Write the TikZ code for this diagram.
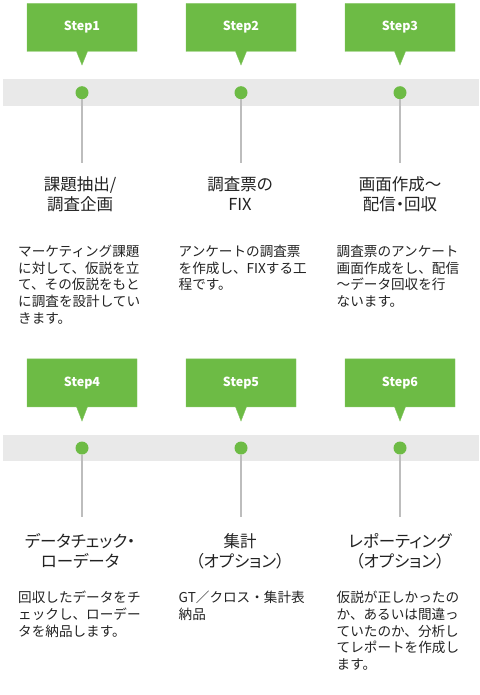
\documentclass[tikz,border=0pt]{standalone}
\usepackage{fontspec}
\setmainfont{Noto Sans CJK JP}
\newfontfamily\headfont[RawFeature=+palt]{Noto Sans CJK JP}
\usepackage{tikz}
\usetikzlibrary{shapes.callouts,positioning}
\definecolor{stepgreen}{HTML}{6DBB45}
\definecolor{bandgray}{HTML}{E9E9E9}
\definecolor{stemgray}{HTML}{BDBDBD}
\definecolor{inkgray}{HTML}{222222}

\begin{document}
\begin{tikzpicture}[
  x=1pt, y=-1pt,
  stepbox/.style={rectangle callout, fill=stepgreen, draw=stepgreen!85!white,
             minimum width=110pt, minimum height=48pt, callout pointer width=11pt,
             text=white, font=\fontsize{12.5}{14}\bfseries\selectfont},
  band/.style={fill=bandgray, minimum width=476pt, minimum height=26.7pt, inner sep=0pt},
  stepdot/.style={circle, fill=stepgreen, minimum size=13pt, inner sep=0pt},
  stemline/.style={draw=stemgray, line width=1.5pt},
  steptitle/.style={align=center, anchor=north, inner sep=0pt, text=inkgray,
             font=\headfont\fontsize{16.5}{20}\selectfont},
  stepnote/.style={align=left, anchor=north west, inner sep=0pt, text=inkgray,
             font=\fontsize{13.6}{16.9}\selectfont}
]
\useasboundingbox (0,0) rectangle (479,695);

% upper row
\node[band] (bandA) at (241,92.7) {};
\coordinate (e1) at (82,163);
\coordinate (e2) at (241,163);
\coordinate (e3) at (400,163);
\node[stepdot] (d1) at (82,92.7) {};
\node[stepdot] (d2) at (241,92.7) {};
\node[stepdot] (d3) at (400,92.7) {};
\draw[stemline] (d1) -- (e1);
\draw[stemline] (d2) -- (e2);
\draw[stemline] (d3) -- (e3);
\node[stepbox, callout absolute pointer={(82,65)}] (s1) at (82,27.5) {Step1};
\node[stepbox, callout absolute pointer={(241,65)}] (s2) at (241,27.5) {Step2};
\node[stepbox, callout absolute pointer={(400,65)}] (s3) at (400,27.5) {Step3};
\node[steptitle] (t1) at (80,176.5) {課題抽出/\\調査企画};
\node[steptitle] (t2) at (240,176.5) {調査票の\\FIX};
\node[steptitle] (t3) at (400,176.5) {画面作成～\\配信・回収};
\node[stepnote] (n1) at (18,244.5) {マーケティング課題\\に対して、仮説を立\\て、その仮説をもと\\に調査を設計してい\\きます。};
\node[stepnote] (n2) at (178.5,244.5) {アンケートの調査票\\を作成し、FIXする工\\程です。};
\node[stepnote] (n3) at (336.5,244.5) {調査票のアンケート\\画面作成をし、配信\\～データ回収を行\\ないます。};

% lower row
\node[band] (bandB) at (241,448) {};
\coordinate (e4) at (82,517);
\coordinate (e5) at (241,517);
\coordinate (e6) at (400,517);
\node[stepdot] (d4) at (82,448) {};
\node[stepdot] (d5) at (241,448) {};
\node[stepdot] (d6) at (400,448) {};
\draw[stemline] (d4) -- (e4);
\draw[stemline] (d5) -- (e5);
\draw[stemline] (d6) -- (e6);
\node[stepbox, callout absolute pointer={(82,421)}] (s4) at (82,382.8) {Step4};
\node[stepbox, callout absolute pointer={(241,421)}] (s5) at (241,382.8) {Step5};
\node[stepbox, callout absolute pointer={(400,421)}] (s6) at (400,382.8) {Step6};
\node[steptitle] (t4) at (80,533) {データチェック・\\ローデータ};
\node[steptitle] (t5) at (240,533) {集計\\（オプション）};
\node[steptitle] (t6) at (400,533) {レポーティング\\（オプション）};
\node[stepnote] (n4) at (18,590.5) {回収したデータをチ\\ェックし、ローデー\\タを納品します。};
\node[stepnote] (n5) at (178.5,590.5) {GT／クロス・集計表\\納品};
\node[stepnote] (n6) at (336.5,590.5) {仮説が正しかったの\\か、あるいは間違っ\\ていたのか、分析し\\てレポートを作成し\\ます。};
\end{tikzpicture}
\end{document}
